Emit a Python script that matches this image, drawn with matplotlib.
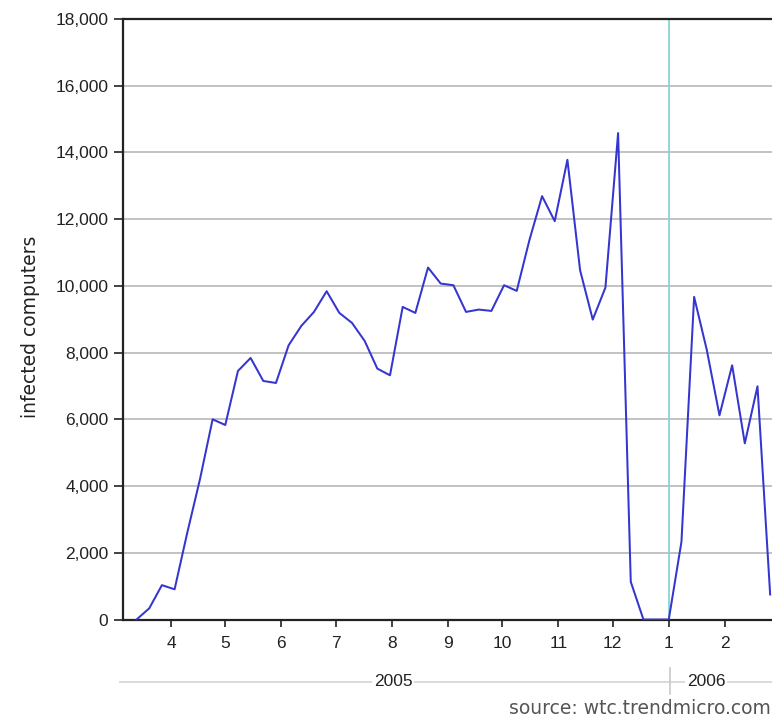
import matplotlib
matplotlib.use('Agg')
import matplotlib.pyplot as plt
from matplotlib.ticker import FuncFormatter
from matplotlib.lines import Line2D
import pandas as pd

# ---- data ----
start_date = '2005-03-13'
infected = [0, 335, 1030, 905, 2600, 4200, 6000, 5830, 7450, 7840,
            7150, 7090, 8220, 8800, 9220, 9840, 9190, 8890, 8350, 7520,
            7320, 9370, 9190, 10550, 10070, 10020, 9220, 9290, 9250, 10020,
            9850, 11370, 12690, 11940, 13780, 10470, 8990, 9950, 14580, 1130,
            0, 0, 0, 2330, 9670, 8080, 6120, 7620, 5280, 6990, 750]
month_ticks = ['2005-04-01', '2005-05-01', '2005-06-01', '2005-07-01', '2005-08-01',
               '2005-09-01', '2005-10-01', '2005-11-01', '2005-12-01', '2006-01-01',
               '2006-02-01']
month_labels = ['4', '5', '6', '7', '8', '9', '10', '11', '12', '1', '2']
y_ticks = [0, 2000, 4000, 6000, 8000, 10000, 12000, 14000, 16000, 18000]
year_labels = ['2005', '2006']
year_boundary = '2006-01-01'
ylabel = 'infected computers'
source = 'source: wtc.trendmicro.com'

dates = pd.date_range(start_date, periods=len(infected), freq='7D')

W, H = 772, 717
fig = plt.figure(figsize=(W / 100, H / 100), dpi=100)
fig.patch.set_facecolor('white')
plt.rcParams['font.family'] = ['Liberation Sans', 'DejaVu Sans']

ax_left, ax_right, ax_top, ax_bottom = 123, 785, 19, 619.5
ax = fig.add_axes([ax_left / W, 1 - ax_bottom / H, (ax_right - ax_left) / W,
                   (ax_bottom - ax_top) / H])

ax.plot(dates, infected, color='#3535d0', lw=1.45, zorder=3)
ax.axvline(pd.Timestamp(year_boundary), color='#88d4d4', lw=1.3, zorder=2)

ref = pd.Timestamp(month_ticks[0])
ax.set_xlim(ref - pd.Timedelta(days=26.5), ref + pd.Timedelta(days=339.2))
ax.set_ylim(0, 18000)
ax.set_yticks(y_ticks)
ax.yaxis.set_major_formatter(FuncFormatter(lambda v, p: f'{int(v):,}'))
ax.set_xticks([pd.Timestamp(m) for m in month_ticks])
ax.set_xticklabels(month_labels)
ax.yaxis.grid(True, color='#b8b8b8', lw=1.2)
ax.set_axisbelow(True)

for s in ['left', 'top', 'bottom', 'right']:
    ax.spines[s].set_linewidth(1.6)
    ax.spines[s].set_color('#222222')

ax.tick_params(axis='y', length=6.5, width=1.2, pad=4, labelsize=12.5, colors='#222222')
ax.tick_params(axis='x', length=5, width=1.2, pad=7, labelsize=12.5, colors='#222222')
ax.set_ylabel(ylabel, fontsize=13.5, color='#222222', family=['DejaVu Sans'])
ax.yaxis.set_label_coords(-0.1254, 0.487)

# year band below the axis
yl = 1 - 682 / H
fig.add_artist(Line2D([120 / W, 1], [yl, yl], transform=fig.transFigure,
                      color='#d6dcd6', lw=1.4))
bx = 669.5 / W
fig.add_artist(Line2D([bx, bx], [1 - 668 / H, 1 - 694 / H], transform=fig.transFigure,
                      color='#c8c8c8', lw=1.2))
for lab, xp in zip(year_labels, [393, 706]):
    fig.text(xp / W, yl, lab, ha='center', va='center', fontsize=12.5, color='#222222',
             bbox=dict(facecolor='white', edgecolor='none', pad=1))

fig.text(771 / W, 1 - 708 / H, source, ha='right', va='center', fontsize=13.5,
         color='#555555', family=['DejaVu Sans'])

fig.savefig('out.png', dpi=100, facecolor='white')
